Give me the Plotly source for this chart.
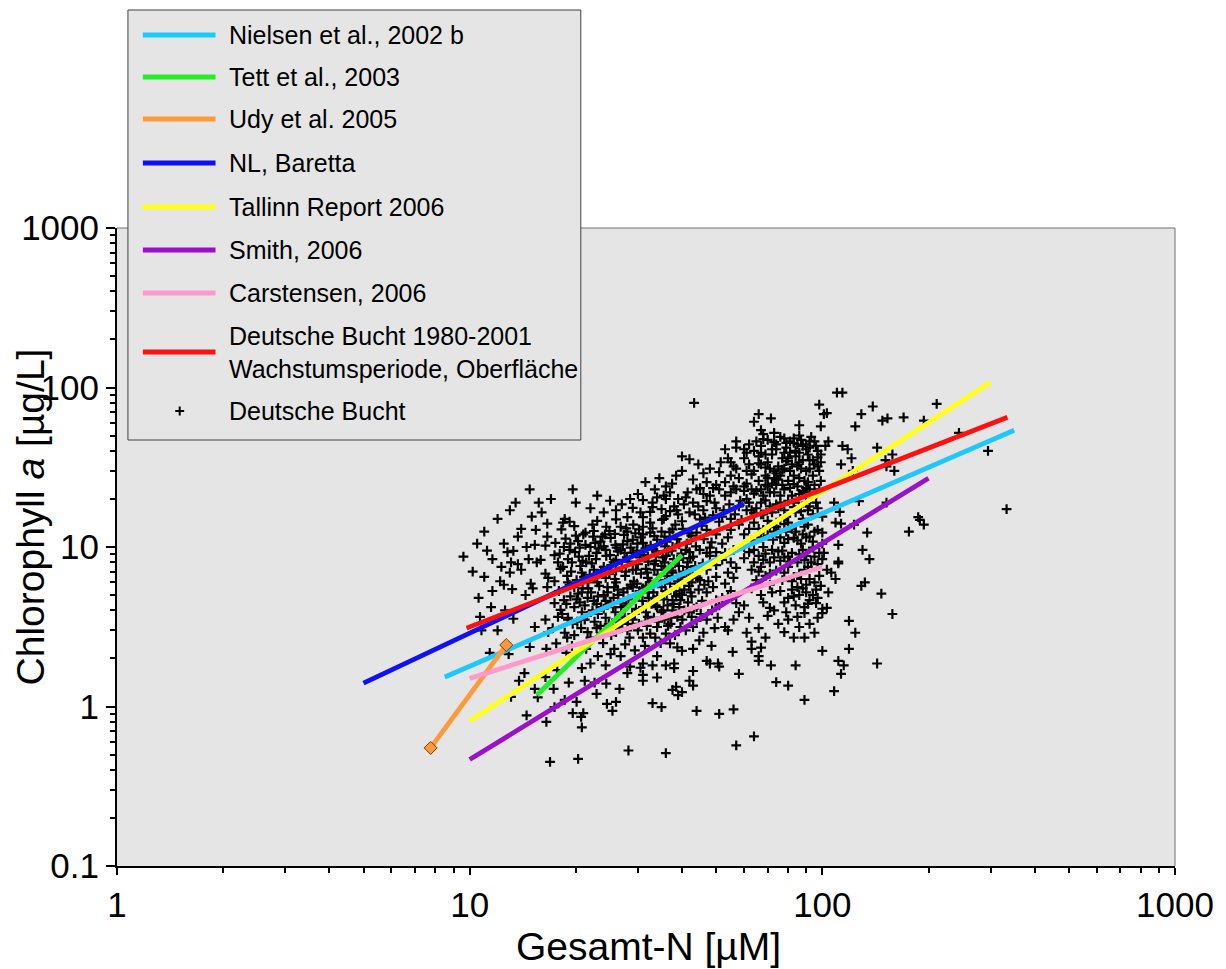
import plotly.graph_objects as go

# ---------------------------------------------------------------- data
# Regression lines (Gesamt-N in µM, Chlorophyll a in µg/L), end points
nielsen_x, nielsen_y = [8.5, 350], [1.53, 54]
tett_x, tett_y = [15.5, 40], [1.18, 8.9]
udy_x, udy_y = [7.75, 12.7], [0.55, 2.43]
nl_x, nl_y = [5, 60], [1.4, 18.7]
tallinn_x, tallinn_y = [10, 300], [0.81, 108]
smith_x, smith_y = [10, 200], [0.465, 27]
carstensen_x, carstensen_y = [10, 100], [1.5, 7.5]
db_fit_x, db_fit_y = [9.8, 335], [3.1, 65]

# Deutsche Bucht observations (TN µM, Chl a µg/L)
db_points = [
    (43.3, 80), (98, 78), (101, 68), (66, 68), (64, 61), (71.5, 64), (86, 58), (99, 57), (67, 54), (68, 51),
    (73, 52), (86, 50), (83, 48), (87, 47), (57, 46), (79, 45), (92, 46), (67, 43), (85, 44), (96, 43),
    (102, 43), (53, 41), (57, 42), (60, 41), (61, 39), (67, 39), (78, 39), (81, 39), (90, 41), (40, 37),
    (54, 36), (55, 34), (67, 33), (80, 36), (88, 35), (92, 35), (99, 34), (56, 32), (57, 31), (64, 30),
    (71, 31), (74, 29), (78, 31), (85, 32), (90, 30), (95, 33), (98, 30), (40, 30), (46, 29), (51, 29.5),
    (69, 28), (73, 27), (76, 28), (83, 28), (89, 26), (53, 25.5), (50, 24.5), (36, 24), (45, 23.4), (49, 23.4),
    (57, 23), (63, 23), (70, 24), (74, 24.5), (85, 24), (92, 23), (98, 23), (44, 23), (55, 22), (64, 21.6),
    (68, 21), (71, 22), (76, 21), (82, 21), (89, 22), (31, 19.7), (33, 19), (36, 20), (39, 20), (47, 19.4),
    (53, 21), (61, 20), (67, 19), (71, 18), (76, 19), (83, 19), (92, 18), (35, 17.3), (38, 18), (38.6, 17),
    (44.5, 18), (46, 17), (32.5, 16.6), (39, 16), (36, 15.6), (31, 15.4), (61, 17), (64, 16.3), (68, 16),
    (19.6, 23), (20, 19), (23, 21), (15.7, 19), (26, 17), (29, 17.6), (28, 15.4), (18.6, 15),
    (110, 93), (114, 93), (139, 76), (211, 79), (103, 69), (129, 68), (148, 62), (153, 64), (170, 65), (194, 62),
    (124, 57), (244, 52), (104, 46), (114, 43), (118, 41), (143, 42), (295, 40), (151, 35), (158, 38), (121, 36),
    (113, 33), (160, 30), (152, 32), (122, 30), (108, 19), (127, 19.4), (152, 19), (112, 16.6), (333, 17.3), (187, 15.4),
    (109, 14.2), (113, 14), (123, 13.8), (134, 12.3), (176, 12.5), (194, 13.8), (189, 14.8), (111, 10.3), (130, 9.6), (136, 8.4),
    (111, 7.9), (111, 8.1), (106, 6.9), (109, 6.3), (129, 5.7), (132, 6.0), (147, 5.1), (158, 3.8), (119, 3.44), (124, 2.9),
    (103, 4.15), (119, 2.3), (111, 1.93), (115, 1.81), (143, 1.86), (113, 1.6), (108, 1.25),
    (36, 0.51), (57, 0.57), (64, 0.65), (44, 0.94), (51, 0.9), (56, 0.96), (33, 1.05), (35, 0.99), (38.5, 1.33), (37.6, 1.27),
    (39, 1.18), (40, 1.23), (42, 1.45), (43, 1.35), (43, 1.67), (47, 1.93), (48, 1.86), (51, 1.78), (50.6, 1.86), (55.7, 2.2),
    (58, 1.6), (63, 2.3), (63, 2.55), (67, 2.34), (66, 2.07), (66, 1.93), (71.5, 1.81), (74, 1.42), (80, 1.35), (84, 1.81),
    (89, 1.1), (100, 2.23), (34, 1.52), (31, 1.45), (31, 1.58), (33, 1.81), (36, 1.81), (38, 1.86), (38, 1.74), (40, 2.23),
    (43, 2.3), (37, 2.49), (34, 2.07), (31, 1.86), (30.5, 1.75),
    (11.4, 2.17), (12.9, 2.13), (14.8, 2.36), (14.3, 1.62), (13.8, 1.45), (13.1, 1.15), (15.3, 1.29), (15.6, 1.14), (14.5, 0.88), (16.5, 0.8),
    (16.9, 0.45), (20.3, 0.47), (17.3, 1.29), (16.4, 1.53), (17.7, 1.69), (19.1, 1.41), (18.6, 1.1), (17.4, 0.99), (20.1, 1.07), (19.6, 0.91),
    (21, 0.91), (20.7, 0.86), (20.8, 0.74), (21.2, 1.45), (22.6, 1.41), (22.9, 1.2), (24.5, 1.04), (26, 1.07), (25.4, 0.94), (26.6, 1.29),
    (24.4, 1.39), (28.2, 0.53), (18.8, 2.17), (20.8, 1.74), (22, 1.86), (23.1, 2.07), (24.3, 1.81), (25.1, 2.13), (26.8, 2.07), (28, 1.62),
    (28.5, 1.78), (16.5, 2.3), (17.6, 2.49),
    (9.6, 8.7), (11.6, 8.4), (13.7, 11.6), (15.4, 12.8), (16.6, 14), (16.6, 11.6), (14.5, 10), (15.3, 10.3), (16.4, 10.2), (12.8, 9.3),
    (13.3, 9.45), (12.3, 7.5), (13.1, 8.0), (13.7, 7.8), (14, 7.2), (14.7, 8.4), (15.5, 8.0), (15.9, 8.3), (13, 6.9), (17.4, 8.9),
    (17.8, 8), (18.4, 7.5), (16.4, 6.8), (16.7, 6.4), (17.4, 6.1), (12.2, 6.1), (14.9, 5.9), (15.1, 5.5), (13.2, 5.45), (11.6, 5.3),
    (14.4, 5.0), (16.6, 5.6), (11.5, 4.2), (12.6, 4.0), (13.3, 3.55), (10.7, 3.65), (10.8, 3.0), (12, 3.0), (15.3, 3.15), (16.4, 3.5),
    (17.8, 3.65), (16.7, 2.93), (17.4, 4.45), (18.5, 4.65), (18.1, 4.03), (19, 3.5), (18.6, 2.9), (19.8, 2.8), (19.2, 14.4), (18.4, 14.2),
    (21.3, 12.3), (22.3, 13.8), (24.4, 13.4), (22.4, 11.6), (23.8, 11.6), (19.3, 10.5), (19.2, 9.6), (21.3, 10.3), (20.4, 8.7), (21.4, 8.0),
    (22.9, 9.2), (24.3, 9.6), (25.9, 10.3), (26.8, 13.4), (28, 12.5), (29.1, 13.8), (26, 8.3), (26.8, 9.6), (20.8, 6.9), (21.6, 6.0),
    (22.6, 6.5), (24.3, 6.4), (26, 6.0), (19.8, 5.6), (20.8, 5.2), (21.6, 4.8), (23.1, 4.9), (24.6, 5.2), (26.3, 5.4), (19.8, 4.2),
    (20.8, 3.9), (22.3, 4.0), (23.6, 4.2), (25.1, 4.45), (26.8, 4.45), (21.2, 3.5), (22.6, 3.4), (24.3, 3.6), (26, 3.5), (27.5, 3.65),
    (21.6, 2.93), (23.6, 2.9), (26, 2.93), (28, 3.0), (29, 3.5), (29, 5.6), (29, 7.2), (29, 9.2), (29, 11.1),
    (32.5, 14.2), (38.3, 13.8), (44, 12.3), (47, 12.8), (51, 14.4), (55, 12.8), (58, 13.8), (64, 14.2), (68, 12.8), (74, 13.4),
    (80, 14.2), (89, 13.4), (100, 12.3), (92, 11.6), (83, 11.4), (78, 10.6), (72.5, 11.1), (68, 10), (64, 9.6), (60, 10),
    (56, 9.6), (53, 9.2), (50, 9.3), (47, 9.2), (43, 8.7), (41, 9.6), (101, 9.2), (95, 8.7), (89, 8.3), (80, 8.7),
    (76, 8.2), (71, 8.0), (67, 7.5), (63, 7.2), (57, 7.4), (54, 6.9), (50, 6.5), (47, 7.2), (45, 6.2), (78, 6.9),
    (83, 6.5), (89, 7.2), (85, 5.6), (90, 5.8), (96, 5.4), (86, 5.0), (83, 4.9), (92, 4.65), (96, 4.45), (100, 4.1),
    (89, 4.2), (84, 4.3), (71, 4.15), (73, 4.0), (60, 4.3), (57, 4.45), (58, 3.9), (56, 3.5), (53, 3.15), (54, 3.0),
    (44, 3.44), (43, 3.15), (39.6, 3.15), (35.7, 3.5), (34, 3.15), (36, 2.86), (32.5, 2.86), (31, 2.7), (80, 3.5), (85, 3.65),
    (89, 3.85), (86, 3.15), (78, 2.93), (83, 2.7), (89, 2.7), (100, 3.85), (31, 13.4), (32.5, 12.3), (34, 11.1), (31, 10.6),
    (35.7, 11.6), (37.6, 10), (34, 9.2), (32, 8.7), (35.7, 8.0), (38.8, 8.3), (41.4, 7.5), (33.4, 7.2), (37.6, 6.9), (39.6, 6.5),
    (42.6, 6.0), (32.5, 6.0), (35, 5.6), (38.3, 5.6), (40.6, 5.4), (32, 5.2), (34, 4.9), (37.6, 4.65), (39.6, 4.65), (42.6, 4.9),
    (47, 5.2), (50, 4.65), (31, 4.2), (34, 4.2), (37.6, 4.0), (40.6, 4.0), (44, 4.2), (48.7, 4.0), (38.8, 3.65), (42.6, 3.65),
    (32, 3.65), (47, 3.5),
    # dense core, lower-left cluster
    (18.2, 12.9), (19.8, 13.5), (21.0, 12.0), (23.0, 14.6), (24.9, 12.6), (26.0, 14.9), (27.4, 11.9), (30.2, 12.9), (33.0, 13.1), (35.1, 14.8),
    (36.9, 12.4), (40.2, 13.0), (42.5, 11.8), (45.5, 13.6), (17.5, 10.6), (18.7, 11.3), (20.3, 10.9), (22.0, 10.0), (23.5, 10.8), (25.1, 11.4),
    (27.2, 10.4), (28.6, 9.9), (30.6, 11.5), (32.6, 10.2), (36.2, 10.8), (38.7, 11.2), (41.3, 10.5), (43.8, 10.1), (46.1, 11.2), (48.5, 10.7),
    (18.0, 9.1), (19.9, 9.3), (21.8, 8.8), (23.2, 9.8), (25.0, 8.9), (26.3, 9.4), (27.9, 8.6), (29.8, 9.5), (31.2, 8.9), (33.0, 9.7),
    (35.3, 8.6), (36.6, 9.4), (39.8, 9.1), (42.2, 8.5), (44.9, 9.6), (48, 8.8), (18.1, 7.3), (19.5, 8.0), (20.6, 7.6), (22.2, 7.9),
    (23.6, 7.1), (25.2, 7.7), (27.0, 7.4), (28.3, 8.1), (30.0, 7.8), (31.6, 7.3), (33.7, 8.2), (35.0, 7.6), (36.7, 7.4), (38.2, 7.9),
    (40.3, 7.0), (43.6, 7.6), (45.8, 7.9), (18.9, 6.6), (20.1, 6.2), (21.9, 6.7), (23.0, 6.0), (24.9, 6.8), (25.8, 6.3), (27.6, 6.6),
    (29.2, 6.1), (30.6, 6.8), (32.0, 6.4), (34.5, 6.2), (36.3, 6.6), (38.9, 6.1), (41.2, 6.8), (44.3, 6.4), (47.5, 6.1), (17.9, 5.3),
    (19.2, 5.8), (20.3, 5.1), (21.7, 5.5), (23.3, 5.7), (24.0, 5.0), (25.7, 5.6), (27.3, 5.2), (28.6, 5.8), (30.3, 5.3), (31.6, 5.7),
    (33.2, 5.2), (35.9, 5.3), (37.0, 5.9), (39.4, 5.1), (41.9, 5.7), (44.6, 5.4), (46.3, 5.8), (18.8, 4.4), (20.1, 4.7), (21.2, 4.3),
    (22.5, 4.6), (24.0, 4.1), (25.6, 4.8), (26.9, 4.2), (28.2, 4.7), (29.6, 4.1), (30.9, 4.6), (32.8, 4.4), (35.5, 4.7), (36.4, 4.3),
    (38.5, 4.9), (41.6, 4.5), (45.6, 4.6), (52, 4.8), (18.3, 3.8), (19.6, 3.3), (21.5, 3.7), (23.1, 3.8), (24.8, 3.3), (25.9, 3.9),
    (27.1, 3.4), (28.9, 3.8), (30.2, 3.3), (31.6, 3.9), (33.3, 3.6), (35.0, 3.9), (37.1, 3.3), (40.1, 3.5), (41.8, 3.9), (45.2, 3.8),
    (50.5, 3.6), (17.2, 3.1), (18.9, 2.7), (20.7, 3.1), (22.0, 2.7), (23.5, 3.2), (25.2, 2.8), (27.0, 3.1), (28.4, 2.7), (30.0, 3.0),
    (31.8, 3.2), (33.6, 2.7), (36.5, 3.2), (38.2, 2.8), (41.0, 3.0), (46.0, 2.9), (49.5, 3.1), (19.5, 2.4), (21.4, 2.3), (23.9, 2.5),
    (25.7, 2.3), (27.6, 2.45), (29.4, 2.25), (31.4, 2.4), (34.8, 2.5), (38.8, 2.35), (44.8, 2.6), (48.5, 2.4),
    (18.5, 10.0), (19.0, 8.4), (19.4, 7.0), (19.0, 6.0), (19.3, 4.9), (19.0, 3.6), (20.0, 11.8), (20.5, 9.9), (20.9, 8.2), (21.1, 6.5),
    (20.9, 5.5), (20.5, 4.5), (20.2, 3.4), (22.5, 12.6), (22.7, 10.6), (22.8, 8.4), (22.5, 7.2), (22.1, 5.2), (22.9, 4.4), (22.9, 3.1),
    (24.2, 12.0), (24.0, 10.1), (24.4, 8.8), (24.0, 7.5), (24.6, 5.6), (24.3, 4.6), (24.2, 3.0), (25.8, 12.1), (26.1, 9.9), (25.6, 8.0),
    (26.0, 7.1), (26.4, 5.0), (25.5, 4.2), (26.2, 3.2), (27.8, 13.1), (28.0, 10.9), (27.5, 9.2), (27.7, 7.0), (28.0, 5.5), (27.8, 4.3),
    (28.1, 3.3), (29.5, 12.2), (29.9, 10.5), (30.4, 8.6), (29.6, 7.2), (29.8, 5.9), (30.1, 4.9), (29.4, 3.8), (31.0, 12.0), (31.5, 9.8),
    (32.1, 8.1), (31.9, 6.9), (31.0, 5.5), (32.2, 4.8), (31.5, 3.4), (33.4, 11.7), (33.8, 9.4), (33.4, 7.8), (34.1, 6.7), (33.0, 5.8),
    (33.7, 4.3), (34.3, 3.4), (35.0, 12.5), (35.8, 10.1), (36.0, 8.8), (35.5, 7.2), (35.8, 6.0), (36.2, 5.1), (35.4, 4.0), (37.6, 12.9),
    (37.4, 9.5), (37.9, 8.4), (37.4, 7.1), (38.0, 5.3), (37.9, 4.4), (37.3, 3.6), (39.3, 10.4), (40.3, 8.5), (39.2, 7.6), (40.1, 6.2),
    (40.0, 5.0), (39.3, 4.2), (41.8, 12.2), (42.0, 9.3), (41.5, 8.0), (42.9, 6.6), (42.3, 5.2), (43.2, 4.1),
    # middle band
    (27, 18.5), (30, 21.5), (33.5, 23), (35.5, 21), (37.5, 25), (41.5, 22), (43, 19), (42, 16.5), (48, 21), (50, 17.5),
    (52, 15.5), (54.5, 18.5), (56.5, 16), (58.5, 19.5), (60, 22.5), (28.5, 20), (25, 19.5), (24, 16.5), (22, 17.5), (31.5, 25.5),
    (34.5, 27), (38.5, 28), (43, 26.5), (47, 25.5), (48, 31), (44.5, 33), (42, 35.5), (51.5, 34), (35.5, 15), (45, 14.9),
    (49, 15.8), (55, 15), (59, 14.8), (40, 14.5), (30.5, 16.5), (33, 17.8), (37, 16.8), (40.5, 18.5), (43.5, 16), (46.5, 15.3),
    (49.5, 19), (52.5, 17), (41, 20.5), (37, 22), (34, 20.5), (46, 21.5), (51, 23), (56, 24), (55, 28),
    # dense core, upper-right cluster
    (70, 47), (74, 44), (76, 49), (81, 46), (88, 43), (93, 49), (97, 40), (72, 41), (65, 46), (84, 40),
    (60, 36), (62, 33), (66, 37), (70, 34), (72, 38), (75, 32), (77, 36), (82, 33), (84, 37), (87, 31),
    (91, 38), (94, 35), (97, 32), (69, 31.5), (79, 34.5), (58, 27), (61, 25), (63, 28.5), (66, 26), (67, 23),
    (70, 27), (72, 25), (75, 26.5), (78, 23), (80, 26), (83, 24.8), (86, 27), (88, 22.5), (91, 25.5), (94, 28),
    (96, 21.5), (99, 26), (58, 18), (62, 19), (65, 17.5), (69, 19.6), (72, 16.5), (74, 18.5), (78, 17), (80, 19.5),
    (84, 16.5), (86, 18), (88, 15), (90, 19), (94, 16), (97, 17.5), (100, 15.5), (76, 15), (70, 14.6), (60, 12),
    (63, 11), (66, 13), (70, 11.8), (73, 12.5), (76, 11.5), (79, 12.5), (82, 13), (85, 11), (88, 12), (91, 13.8),
    (94, 10.8), (97, 12.8), (100, 10.5), (78, 13.9), (60, 8.5), (62, 9.3), (66, 8.8), (69, 9.1), (72, 9.6), (75, 9.4),
    (78, 8.6), (82, 9.2), (85, 8.0), (88, 9.6), (91, 7.5), (94, 9.9), (97, 7.8), (100, 8.4), (86, 6.8), (92, 6.3),
    (98, 6.6), (80, 7.5), (74, 7.1), (69, 6.6), (65, 6.2), (103, 7.2), (63, 5.5), (67, 5.0), (71, 5.8), (76, 5.3),
    (80, 4.8), (88, 5.5), (94, 5.0), (99, 5.7), (91, 4.4), (78, 4.5), (68, 4.5), (104, 5.2), (62, 3.6), (66, 3.1),
    (70, 3.7), (75, 3.3), (79, 3.9), (92, 3.3), (95, 2.9), (97, 3.6), (69, 2.7), (61, 2.9),
    (62, 44), (68, 47.5), (73, 45.5), (78, 48), (83, 45), (90, 44), (95, 46), (64, 40), (69, 38), (74, 41),
    (79, 42), (86, 39), (92, 42), (99, 38), (61, 30), (66, 33.5), (73, 30), (77, 30.5), (81, 30), (86, 34),
    (92, 31), (97, 36.5), (60, 24), (65, 22.5), (69, 24.5), (73, 22), (77, 24.5), (81, 23.5), (86, 21.5), (90, 23.5),
    (95, 24.5), (63, 17), (67, 16), (71, 17.2), (75, 17.5), (79, 15.5), (83, 17.8), (87, 16.8), (91, 17), (96, 19),
    (62, 13), (67, 11.5), (71, 13.3), (75, 12.8), (80, 11.2), (84, 12.5), (87, 10.5), (90, 11.5), (95, 12.5), (64, 8),
    (68, 8.3), (73, 8.6), (77, 9.5), (81, 8.1), (86, 9), (90, 8.8), (93, 8), (98, 9.2), (66, 7.0), (71, 6.8),
    (77, 6.2), (82, 6.1), (87, 6.3), (95, 6.0), (72, 5.2), (82, 5.4), (90, 5.2), (97, 4.8),
    # between the clusters
    (50, 12), (52, 10.5), (54, 11.5), (48, 9.9), (52, 8.3), (55, 8.0), (50, 7.7), (53, 5.9), (49, 5.6), (55, 5.3),
    (51, 4.3), (54, 4.9), (56, 6.4),
    # low-nitrogen fringe
    (10.5, 10.5), (11, 12.5), (12, 15), (13, 17), (11.2, 9.5), (12.5, 10.5), (14, 13), (15, 15.5), (13.5, 19), (14.8, 23),
    (17, 20), (16, 16.5), (10.2, 7), (11, 6.5), (12.5, 5.8), (10.6, 4.8),
]

legend_labels = [
    "Nielsen et al., 2002 b", "Tett et al., 2003", "Udy et al. 2005", "NL, Baretta",
    "Tallinn Report 2006", "Smith, 2006", "Carstensen, 2006",
    "Deutsche Bucht 1980-2001<br>Wachstumsperiode, Oberfläche", "Deutsche Bucht",
]
line_colors = ["#1EC8FF", "#22F022", "#FF9A3A", "#1010F5", "#FFFF1A", "#9A10CC", "#FF99CC", "#FF1010"]

x_ticks = [1, 10, 100, 1000]
y_ticks = [0.1, 1, 10, 100, 1000]

# ---------------------------------------------------------------- figure
W, H = 1226, 969
ML, MR, MT, MB = 117, 46, 228, 103
PW, PH = W - ML - MR, H - MT - MB


def fx(px):
    return (px - ML) / PW


def fy(py):
    return (H - MB - py) / PH


fig = go.Figure()

pts_x = [p[0] for p in db_points]
pts_y = [p[1] for p in db_points]
fig.add_trace(go.Scatter(
    x=pts_x, y=pts_y, mode="markers", showlegend=False,
    marker=dict(symbol="cross-thin", size=7, color="black",
                line=dict(width=2.2, color="black")),
))

series = [
    (nielsen_x, nielsen_y), (tett_x, tett_y), (udy_x, udy_y), (nl_x, nl_y),
    (tallinn_x, tallinn_y), (smith_x, smith_y), (carstensen_x, carstensen_y),
    (db_fit_x, db_fit_y),
]
for (sx, sy), col in zip(series, line_colors):
    fig.add_trace(go.Scatter(x=sx, y=sy, mode="lines", showlegend=False,
                             line=dict(color=col, width=4.8)))

# Udy et al. end points carry diamond markers
fig.add_trace(go.Scatter(
    x=udy_x, y=udy_y, mode="markers", showlegend=False,
    marker=dict(symbol="diamond", size=10, color="#FF9A3A",
                line=dict(width=1, color="#7A3A00")),
))

minor_vals = [m * 10 ** e for e in range(-1, 3) for m in range(2, 10)]
axis_common = dict(
    type="log", showgrid=False, zeroline=False,
    showline=True, linecolor="black", linewidth=2,
    ticks="outside", tickcolor="black", tickwidth=2,
    tickfont=dict(family="Liberation Sans, Arial, sans-serif", size=35, color="black"),
    tickmode="array",
)
fig.update_xaxes(
    **axis_common, range=[0, 3], tickvals=x_ticks, ticktext=[str(v) for v in x_ticks],
    ticklen=7,
    minor=dict(ticks="outside", ticklen=5, tickwidth=1.5, tickcolor="black",
               tickmode="array", tickvals=[v for v in minor_vals if 1 < v < 1000]),
)
fig.update_yaxes(
    **axis_common, range=[-1, 3], tickvals=y_ticks, ticktext=[str(v) for v in y_ticks],
    ticklen=9,
    minor=dict(ticks="outside", ticklen=5, tickwidth=1.5, tickcolor="black",
               tickmode="array", tickvals=minor_vals),
)

shapes = [
    # thin frame on top and right of the plot area
    dict(type="line", xref="paper", yref="paper", x0=0, x1=1, y0=1, y1=1,
         line=dict(color="#707070", width=1)),
    dict(type="line", xref="paper", yref="paper", x0=1, x1=1, y0=0, y1=1,
         line=dict(color="#707070", width=1)),
    # legend box
    dict(type="rect", xref="paper", yref="paper", x0=fx(128), x1=fx(583), y0=fy(440), y1=fy(10),
         fillcolor="#E5E5E5", line=dict(color="#404040", width=1), layer="above"),
]
annotations = []

legend_font = dict(family="Liberation Sans, Arial, sans-serif", size=25, color="black")
entry_y = [35, 77, 119, 163, 207, 250, 293, 352, 411]
for i, label in enumerate(legend_labels):
    yc = entry_y[i]
    if i < len(line_colors):
        shapes.append(dict(type="line", xref="paper", yref="paper",
                           x0=fx(143), x1=fx(216), y0=fy(yc), y1=fy(yc), layer="above",
                           line=dict(color=line_colors[i], width=4.8)))
    else:
        # small "+" for the observation series
        for dx0, dy0, dx1, dy1 in [(-4.5, 0, 4.5, 0), (0, -4.5, 0, 4.5)]:
            shapes.append(dict(type="line", xref="paper", yref="paper", layer="above",
                               x0=fx(180 + dx0), x1=fx(180 + dx1),
                               y0=fy(yc + dy0), y1=fy(yc + dy1),
                               line=dict(color="black", width=2)))
    annotations.append(dict(text=label, xref="paper", yref="paper", x=fx(228), y=fy(yc),
                            xanchor="left", yanchor="middle", align="left", showarrow=False,
                            font=legend_font))

title_font = dict(family="Liberation Sans, Arial, sans-serif", size=39, color="black")
annotations.append(dict(text="Gesamt-N [µM]", xref="paper", yref="paper",
                        x=fx(651), y=fy(946), xanchor="center", yanchor="middle",
                        showarrow=False, font=title_font))
annotations.append(dict(text="Chlorophyll <i>a</i> [µg/L]", xref="paper", yref="paper",
                        x=fx(30), y=fy(517), xanchor="center", yanchor="middle", textangle=-90,
                        showarrow=False, font=title_font))

fig.update_layout(
    width=W, height=H,
    margin=dict(l=ML, r=MR, t=MT, b=MB, pad=0),
    paper_bgcolor="white", plot_bgcolor="#E5E5E5",
    shapes=shapes, annotations=annotations, showlegend=False,
)

fig.write_html("out.html")
